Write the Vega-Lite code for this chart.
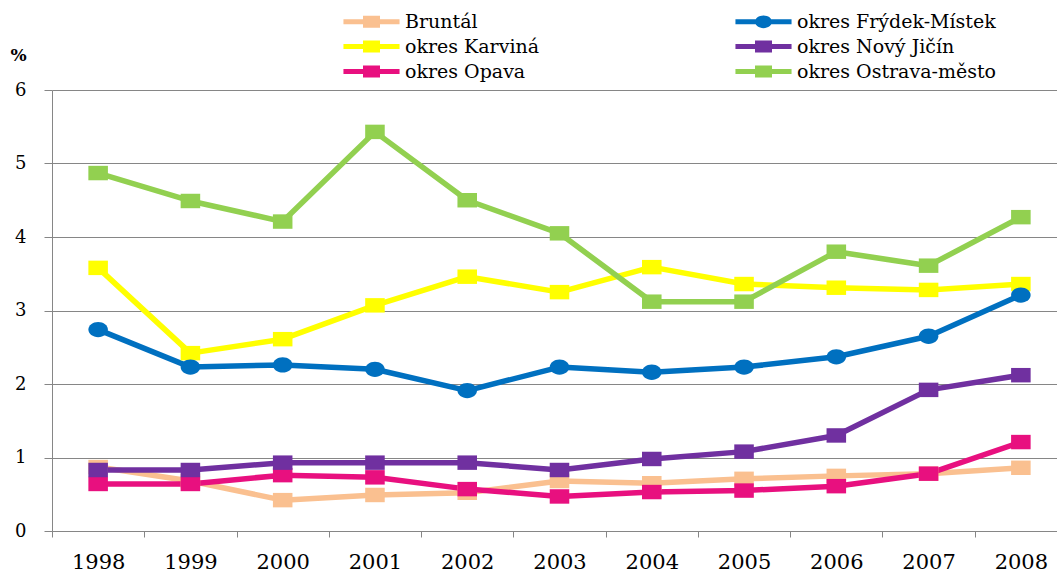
{
  "$schema": "https://vega.github.io/schema/vega-lite/v6.json",
  "width": 1005,
  "height": 441,
  "autosize": {"type": "none"},
  "padding": {"left": 52, "top": 90, "right": 0, "bottom": 43},
  "background": "white",
  "config": {"view": {"stroke": null}, "font": "DejaVu Serif"},
  "data": {"values": [
    {"year": "1998", "series": "Bruntál", "value": 0.87},
    {"year": "1999", "series": "Bruntál", "value": 0.68},
    {"year": "2000", "series": "Bruntál", "value": 0.42},
    {"year": "2001", "series": "Bruntál", "value": 0.49},
    {"year": "2002", "series": "Bruntál", "value": 0.52},
    {"year": "2003", "series": "Bruntál", "value": 0.68},
    {"year": "2004", "series": "Bruntál", "value": 0.65},
    {"year": "2005", "series": "Bruntál", "value": 0.71},
    {"year": "2006", "series": "Bruntál", "value": 0.75},
    {"year": "2007", "series": "Bruntál", "value": 0.78},
    {"year": "2008", "series": "Bruntál", "value": 0.86},
    {"year": "1998", "series": "okres Karviná", "value": 3.58},
    {"year": "1999", "series": "okres Karviná", "value": 2.42},
    {"year": "2000", "series": "okres Karviná", "value": 2.61},
    {"year": "2001", "series": "okres Karviná", "value": 3.07},
    {"year": "2002", "series": "okres Karviná", "value": 3.46},
    {"year": "2003", "series": "okres Karviná", "value": 3.25},
    {"year": "2004", "series": "okres Karviná", "value": 3.59},
    {"year": "2005", "series": "okres Karviná", "value": 3.36},
    {"year": "2006", "series": "okres Karviná", "value": 3.31},
    {"year": "2007", "series": "okres Karviná", "value": 3.28},
    {"year": "2008", "series": "okres Karviná", "value": 3.36},
    {"year": "1998", "series": "okres Frýdek-Místek", "value": 2.74},
    {"year": "1999", "series": "okres Frýdek-Místek", "value": 2.23},
    {"year": "2000", "series": "okres Frýdek-Místek", "value": 2.26},
    {"year": "2001", "series": "okres Frýdek-Místek", "value": 2.2},
    {"year": "2002", "series": "okres Frýdek-Místek", "value": 1.91},
    {"year": "2003", "series": "okres Frýdek-Místek", "value": 2.23},
    {"year": "2004", "series": "okres Frýdek-Místek", "value": 2.16},
    {"year": "2005", "series": "okres Frýdek-Místek", "value": 2.23},
    {"year": "2006", "series": "okres Frýdek-Místek", "value": 2.37},
    {"year": "2007", "series": "okres Frýdek-Místek", "value": 2.65},
    {"year": "2008", "series": "okres Frýdek-Místek", "value": 3.21},
    {"year": "1998", "series": "okres Opava", "value": 0.64},
    {"year": "1999", "series": "okres Opava", "value": 0.64},
    {"year": "2000", "series": "okres Opava", "value": 0.76},
    {"year": "2001", "series": "okres Opava", "value": 0.73},
    {"year": "2002", "series": "okres Opava", "value": 0.57},
    {"year": "2003", "series": "okres Opava", "value": 0.47},
    {"year": "2004", "series": "okres Opava", "value": 0.53},
    {"year": "2005", "series": "okres Opava", "value": 0.55},
    {"year": "2006", "series": "okres Opava", "value": 0.61},
    {"year": "2007", "series": "okres Opava", "value": 0.78},
    {"year": "2008", "series": "okres Opava", "value": 1.21},
    {"year": "1998", "series": "okres Nový Jičín", "value": 0.83},
    {"year": "1999", "series": "okres Nový Jičín", "value": 0.83},
    {"year": "2000", "series": "okres Nový Jičín", "value": 0.93},
    {"year": "2001", "series": "okres Nový Jičín", "value": 0.93},
    {"year": "2002", "series": "okres Nový Jičín", "value": 0.93},
    {"year": "2003", "series": "okres Nový Jičín", "value": 0.83},
    {"year": "2004", "series": "okres Nový Jičín", "value": 0.98},
    {"year": "2005", "series": "okres Nový Jičín", "value": 1.08},
    {"year": "2006", "series": "okres Nový Jičín", "value": 1.3},
    {"year": "2007", "series": "okres Nový Jičín", "value": 1.92},
    {"year": "2008", "series": "okres Nový Jičín", "value": 2.12},
    {"year": "1998", "series": "okres Ostrava-město", "value": 4.87},
    {"year": "1999", "series": "okres Ostrava-město", "value": 4.49},
    {"year": "2000", "series": "okres Ostrava-město", "value": 4.21},
    {"year": "2001", "series": "okres Ostrava-město", "value": 5.43},
    {"year": "2002", "series": "okres Ostrava-město", "value": 4.5},
    {"year": "2003", "series": "okres Ostrava-město", "value": 4.05},
    {"year": "2004", "series": "okres Ostrava-město", "value": 3.12},
    {"year": "2005", "series": "okres Ostrava-město", "value": 3.12},
    {"year": "2006", "series": "okres Ostrava-město", "value": 3.8},
    {"year": "2007", "series": "okres Ostrava-město", "value": 3.61},
    {"year": "2008", "series": "okres Ostrava-město", "value": 4.27}
  ]},
  "encoding": {
    "x": {
      "field": "year", "type": "ordinal",
      "scale": {"type": "band", "range": [0, 1015], "paddingInner": 0, "paddingOuter": 0},
      "axis": {
        "title": null, "labelAngle": 0, "tickBand": "extent", "grid": false,
        "domainColor": "#868686", "tickColor": "#868686", "tickSize": 6,
        "labelFontSize": 21, "labelFont": "DejaVu Serif", "labelColor": "black", "labelPadding": 14
      }
    },
    "y": {
      "field": "value", "type": "quantitative",
      "scale": {"domain": [0, 6], "nice": false},
      "axis": {
        "title": "%", "titleAngle": 0, "titleAlign": "left", "titleBaseline": "alphabetic",
        "titleX": -42, "titleY": -30, "titleFontSize": 17, "titleFontWeight": "bold",
        "titleFont": "DejaVu Serif", "titleColor": "black",
        "values": [0, 1, 2, 3, 4, 5, 6], "tickSize": 8, "labelPadding": 18,
        "labelFontSize": 18, "labelFont": "DejaVu Serif", "labelColor": "black",
        "gridColor": "#868686", "domainColor": "#868686", "tickColor": "#868686"
      }
    },
    "color": {
      "field": "series", "type": "nominal",
      "scale": {
        "domain": ["Bruntál", "okres Karviná", "okres Opava", "okres Frýdek-Místek", "okres Nový Jičín", "okres Ostrava-město"],
        "range": ["#FAC090", "#FFFF00", "#E8107F", "#0070C0", "#7030A0", "#92D050"]
      },
      "legend": {
        "title": null, "orient": "none", "legendX": 290, "legendY": -78,
        "columns": 2, "columnPadding": 194, "rowPadding": 5, "padding": 0,
        "labelFontSize": 19, "labelFont": "DejaVu Serif", "labelColor": "black", "labelLimit": 400,
        "symbolSize": 289, "symbolOffset": 20, "labelOffset": 24, "symbolStrokeWidth": 0,
        "symbolType": {"expr": "datum.value === 'okres Frýdek-Místek' ? 'M-3.3,-0.3L3.3,-0.3L3.3,0.3L-3.3,0.3Z M-1,0A1,0.75 0 1,1 1,0A1,0.75 0 1,1 -1,0Z' : 'M-3.3,-0.3L3.3,-0.3L3.3,0.3L-3.3,0.3Z M-1,-0.7L1,-0.7L1,0.7L-1,0.7Z'"}
      }
    }
  },
  "layer": [
    {"mark": {"type": "line", "strokeWidth": 5.5, "strokeJoin": "round"}},
    {
      "transform": [{"filter": "datum.series !== 'okres Frýdek-Místek'"}],
      "mark": {"type": "point", "filled": true, "opacity": 1, "size": 289, "strokeWidth": 0,
               "shape": "M-1.15,-0.85L1.15,-0.85L1.15,0.85L-1.15,0.85Z"}
    },
    {
      "transform": [{"filter": "datum.series === 'okres Frýdek-Místek'"}],
      "mark": {"type": "point", "filled": true, "opacity": 1, "size": 289, "strokeWidth": 0,
               "shape": "M-1.15,0A1.15,0.9 0 1,1 1.15,0A1.15,0.9 0 1,1 -1.15,0Z"}
    }
  ]
}
